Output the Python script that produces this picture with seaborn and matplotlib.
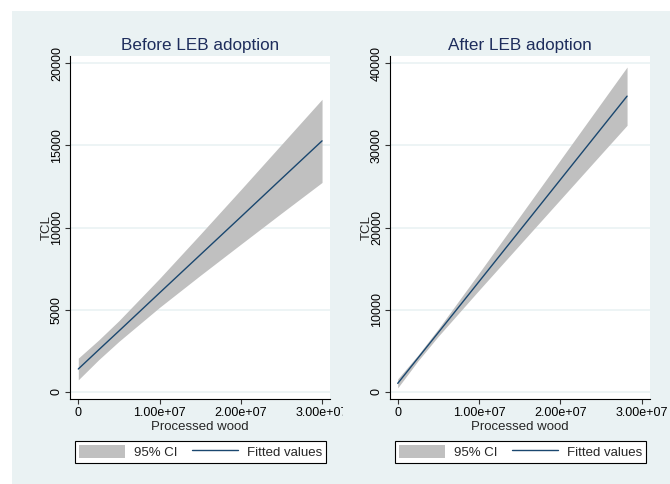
import numpy as np
import pandas as pd
import matplotlib
matplotlib.use("Agg")
import matplotlib.pyplot as plt
import seaborn as sns
from matplotlib.patches import Rectangle, Patch
from matplotlib.lines import Line2D
from matplotlib.transforms import Bbox, TransformedBbox

# ---- data ----
titles = ["Before LEB adoption", "After LEB adoption"]

before_x = [0.0, 0.25e7, 0.5e7, 1.0e7, 1.5e7, 2.0e7, 2.5e7, 3.0e7]
before_fit = [1400, 2560, 3710, 6030, 8340, 10650, 12970, 15280]
before_lo = [740, 1960, 3080, 5150, 7090, 8990, 10880, 12750]
before_hi = [2060, 3160, 4340, 6910, 9590, 12310, 15060, 17810]

after_x = [0.0, 0.25e7, 0.5e7, 1.0e7, 1.5e7, 2.0e7, 2.5e7, 2.82e7]
after_fit = [1050, 4150, 7250, 13440, 19640, 25840, 32040, 36000]
after_lo = [505, 3800, 6800, 12400, 17920, 23430, 28940, 32455]
after_hi = [1595, 4500, 7700, 14480, 21360, 28250, 35140, 39545]

x_ticks = [0, 1e7, 2e7, 3e7]
x_tick_labels = ["0", "1.00e+07", "2.00e+07", "3.00e+07"]
before_yticks = [0, 5000, 10000, 15000, 20000]
after_yticks = [0, 10000, 20000, 30000, 40000]

# ---- style ----
sns.set_style("ticks")
plt.rcParams['font.family'] = ['Liberation Sans', 'DejaVu Sans']

BG = '#EAF2F3'
NAVY = '#1a476f'
CI_GRAY = '#c0c0c0'
TITLE_C = '#1e2d5c'

W, H = 670, 484
fig = plt.figure(figsize=(W / 100, H / 100), dpi=100)
fig.patch.set_facecolor('white')
fig.patches.append(Rectangle((12 / W, 0), 1 - 12 / W, 1 - 11 / H,
                             transform=fig.transFigure, facecolor=BG,
                             edgecolor='none', zorder=-10))

panels = [
    dict(x=before_x, fit=before_fit, lo=before_lo, hi=before_hi,
         yticks=before_yticks, left=70, right=330,
         xlim=(-0.102e7, 3.098e7), ylim=(-426, 20444)),
    dict(x=after_x, fit=after_fit, lo=after_lo, hi=after_hi,
         yticks=after_yticks, left=390, right=650,
         xlim=(-0.095e7, 3.102e7), ylim=(-852, 40888)),
]

top_px, bot_px = 56, 399
axes = []
for i, p in enumerate(panels):
    ax = fig.add_axes([p['left'] / W, 1 - bot_px / H,
                       (p['right'] - p['left']) / W, (bot_px - top_px) / H])
    axes.append(ax)
    ax.set_facecolor('white')
    df = pd.DataFrame({'x': p['x'], 'fit': p['fit'], 'lo': p['lo'], 'hi': p['hi']})
    ax.fill_between(df['x'], df['lo'], df['hi'], color=CI_GRAY, linewidth=0, zorder=2)
    sns.lineplot(data=df, x='x', y='fit', ax=ax, color=NAVY, linewidth=1.0, zorder=3)
    ax.set_xlim(*p['xlim'])
    ax.set_ylim(*p['ylim'])
    ax.set_xticks(x_ticks)
    ax.set_xticklabels(x_tick_labels)
    ax.set_yticks(p['yticks'])
    ax.set_yticklabels([str(v) for v in p['yticks']])
    ax.yaxis.grid(True, color=BG, linewidth=1.2, zorder=0)
    ax.xaxis.grid(False)
    ax.set_axisbelow(True)
    for s in ['top', 'right']:
        ax.spines[s].set_visible(False)
    for s in ['left', 'bottom']:
        ax.spines[s].set_color('black')
        ax.spines[s].set_linewidth(0.8)
    ax.tick_params(axis='both', direction='out', length=3.6, width=0.8,
                   color='#333333', labelsize=9, labelcolor='black', pad=2.5)
    ax.tick_params(axis='y', labelrotation=90, pad=1.5)
    for lab in ax.get_yticklabels():
        lab.set_va('center')
    ax.set_xlabel('Processed wood', fontsize=9.5, labelpad=0.8)
    ax.set_ylabel('TCL', fontsize=9.5, labelpad=-1.0)
    ax.set_title(titles[i], fontsize=12.3, color=TITLE_C, pad=4)

    handles = [Patch(facecolor=CI_GRAY, edgecolor='none', label='95% CI'),
               Line2D([], [], color=NAVY, linewidth=1.0, label='Fitted values')]
    leg = ax.legend(handles=handles, loc='upper left',
                    bbox_to_anchor=(5 / 260, (bot_px - 463) / 343, 251 / 260, 22 / 343),
                    mode='expand', ncol=2, borderaxespad=0, frameon=True,
                    fancybox=False, edgecolor='black', facecolor='white',
                    framealpha=1, handlelength=3.5, handleheight=1.1,
                    handletextpad=0.65, borderpad=0.3, fontsize=9.5)
    leg.get_frame().set_linewidth(0.8)

# clip the left panel's last x tick label like the reference
fig.canvas.draw()
clip = TransformedBbox(Bbox([[0, 0], [343 / W, 1]]), fig.transFigure)
for lab in axes[0].get_xticklabels():
    lab.set_clip_box(clip)
    lab.set_clip_on(True)

fig.savefig('out.png', dpi=100, facecolor=fig.get_facecolor())
